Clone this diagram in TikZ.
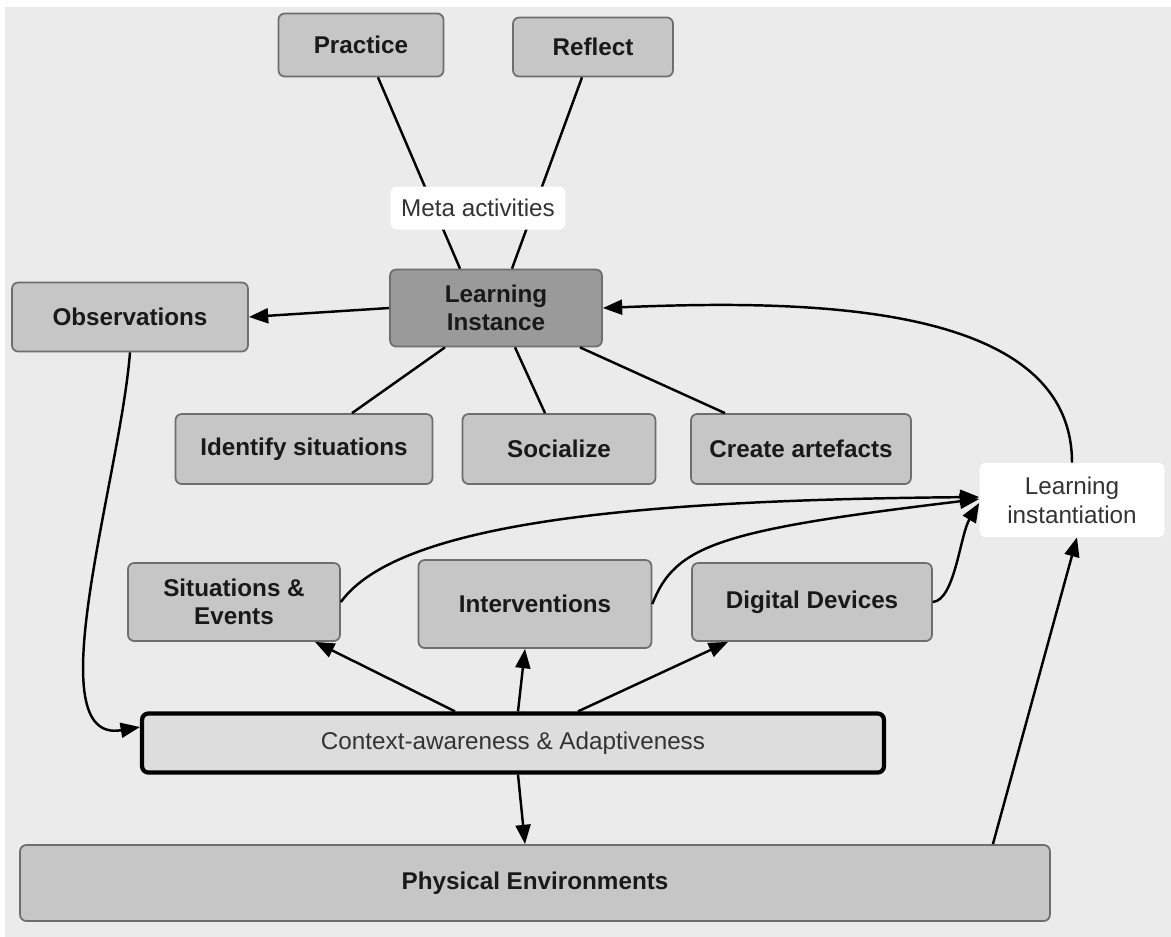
\documentclass[tikz,border=0pt]{standalone}
\usepackage{fontspec}
\setmainfont{Liberation Sans}
\usepackage{tikz}
\usetikzlibrary{arrows.meta, positioning}
\usetikzlibrary{calc}

\definecolor{bggray}{HTML}{EBEBEB}
\definecolor{boxgray}{HTML}{C6C6C6}
\definecolor{darkgray}{HTML}{9A9A9A}
\definecolor{ctxgray}{HTML}{DDDDDD}
\definecolor{edgegray}{HTML}{6E6E6E}

\tikzset{
  box/.style={draw=edgegray, line width=1pt, fill=boxgray, rounded corners=3.5pt,
    inner sep=0pt, align=center, text=black!90,
    font=\fontsize{13.8}{16}\selectfont\bfseries},
  darkbox/.style={box, fill=darkgray},
  whitelabel/.style={fill=white, rounded corners=3.5pt, inner sep=0pt, align=center,
    text=black!80, font=\fontsize{13.8}{16.4}\selectfont},
  ctxbox/.style={draw=black, line width=2.4pt, fill=ctxgray, rounded corners=3.5pt,
    inner sep=0pt, text=black!80, font=\fontsize{13.8}{16}\selectfont},
  link/.style={line width=1.4pt, black},
  arr/.style={link, -{Triangle[length=11pt,width=8.5pt]}}
}

\begin{document}
\begin{tikzpicture}[x=0.02cm, y=-0.02cm]
    % Page and background
    \useasboundingbox (0,0) rectangle (1171,937);
    \fill[white] (0,0) rectangle (1171,937);
    \fill[bggray] (5,7) rectangle (1171,937);

    % Meta activities
    \node[box, minimum width=3.30cm, minimum height=1.26cm] (practice) at (361,45) {Practice};
    \node[box, minimum width=3.20cm, minimum height=1.18cm] (reflect) at (593,47) {Reflect};

    % Learning instance and its activities
    \node[darkbox, minimum width=4.24cm, minimum height=1.54cm] (instance) at (496,308) {Learning\\Instance};
    \node[box, minimum width=4.72cm, minimum height=1.38cm] (observations) at (130,317) {Observations};
    \node[box, minimum width=5.14cm, minimum height=1.40cm] (identify) at (304,449) {Identify situations};
    \node[box, minimum width=3.86cm, minimum height=1.40cm] (socialize) at (559,449) {Socialize};
    \node[box, minimum width=4.40cm, minimum height=1.40cm] (artefacts) at (801,449) {Create artefacts};

    % Sources of learning instantiation
    \node[whitelabel, minimum width=3.70cm, minimum height=1.48cm] (instantiation) at (1072,500) {Learning\\instantiation};
    \node[box, minimum width=4.24cm, minimum height=1.56cm] (situations) at (234,602) {Situations \&\\Events};
    \node[box, minimum width=4.66cm, minimum height=1.76cm] (interventions) at (535,604) {Interventions};
    \node[box, minimum width=4.80cm, minimum height=1.56cm] (devices) at (812,602) {Digital Devices};

    % Context layer and environment
    \node[ctxbox, minimum width=14.84cm, minimum height=1.18cm] (context) at (513,743) {Context-awareness \& Adaptiveness};
    \node[box, minimum width=20.60cm, minimum height=1.52cm] (environments) at (535,883) {Physical Environments};

    % Links to the learning instance
    \draw[link] ([xshift=0.34cm]practice.south) -- ([xshift=-0.72cm]instance.north);
    \draw[link] ([xshift=-0.22cm]reflect.south) -- ([xshift=0.32cm]instance.north);
    \draw[link] ([xshift=-1.02cm]instance.south) -- ([xshift=0.96cm]identify.north);
    \draw[link] ([xshift=0.38cm]instance.south) -- ([xshift=-0.28cm]socialize.north);
    \draw[link] ([xshift=1.68cm]instance.south) -- ([xshift=-1.52cm]artefacts.north);
    \draw[arr] (instance.west) -- (observations.east);

    % Label over the meta lines
    \node[whitelabel, minimum width=3.50cm, minimum height=0.86cm] (meta) at (478,208) {Meta activities};

    % Curved connectors
    \draw[arr] (observations.south) .. controls (120,480) and (35,745) .. ([yshift=0.32cm]context.west);
    \draw[arr] (instantiation.north) .. controls (1072,300) and (800,300) .. (instance.east);
    \draw[arr] (situations.east) .. controls (400,520) and (650,500) .. ([yshift=0.06cm]instantiation.west);
    \draw[arr] (interventions.east) .. controls (675,545) and (720,530) .. ([yshift=0.02cm]instantiation.west);
    \draw[arr] (devices.east) .. controls (955,600) and (960,535) .. ([yshift=-0.06cm]instantiation.west);

    % Context adapts the sources
    \draw[arr] ([xshift=-1.16cm]context.north) -- ([xshift=1.62cm]situations.south);
    \draw[arr] ([xshift=0.10cm]context.north) -- ([xshift=-0.20cm]interventions.south);
    \draw[arr] ([xshift=1.30cm]context.north) -- ([xshift=-1.68cm]devices.south);
    \draw[arr] ([xshift=0.10cm]context.south) -- ([xshift=-0.20cm]environments.north);
    \draw[arr] ([xshift=9.16cm]environments.north) -- ([xshift=0.10cm]instantiation.south);
\end{tikzpicture}
\end{document}
